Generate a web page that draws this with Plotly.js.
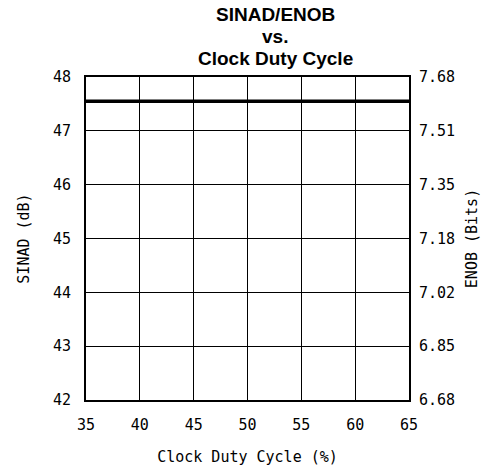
<!DOCTYPE html>
<html>
<head>
<meta charset="utf-8">
<script src="https://cdn.plot.ly/plotly-3.0.1.min.js"></script>
<style>html,body{margin:0;padding:0;background:#fff;}#chart{width:487px;height:472px;}</style>
</head>
<body>
<div id="chart"></div>
<script>
// Data
var dutyCycle = [35, 40, 45, 50, 55, 60, 65];
var sinad = [47.55, 47.55, 47.55, 47.55, 47.55, 47.55, 47.55];
var xTicks = [35, 40, 45, 50, 55, 60, 65];
var sinadTicks = [42, 43, 44, 45, 46, 47, 48];
var enobTickLabels = ['6.68', '6.85', '7.02', '7.18', '7.35', '7.51', '7.68'];
var titleLines = ['SINAD/ENOB', 'vs.', 'Clock Duty Cycle'];

var mono = 'DejaVu Sans Mono, monospace';
var tickFont = {family: mono, size: 15, color: '#000'};

var traces = [{
  x: dutyCycle, y: sinad, type: 'scatter', mode: 'lines',
  line: {color: '#000', width: 3.5}, hoverinfo: 'none', showlegend: false
}, {
  x: dutyCycle, y: sinad, type: 'scatter', mode: 'lines', yaxis: 'y2',
  line: {color: 'rgba(0,0,0,0)', width: 0}, hoverinfo: 'none', showlegend: false
}];

var titleY = [14.5, 36.5, 58.5];
var plotTop = 77, plotH = 323;
var annotations = titleLines.map(function (t, i) {
  return {
    text: t, xref: 'paper', yref: 'paper', x: (275 - 86) / 323, y: 1 + (plotTop - titleY[i]) / plotH,
    xanchor: 'center', yanchor: 'middle', showarrow: false, borderpad: 0,
    font: {family: 'Liberation Sans, Arial, sans-serif', size: 19, color: '#000', weight: 'bold'}
  };
});

var layout = {
  width: 487, height: 472,
  margin: {l: 86, r: 78, t: 77, b: 72, pad: 0},
  paper_bgcolor: '#fff', plot_bgcolor: '#fff',
  showlegend: false,
  annotations: annotations,
  xaxis: {
    range: [35, 65], tickvals: xTicks, ticktext: xTicks.map(String),
    showgrid: true, gridcolor: '#000', gridwidth: 1,
    showline: true, linecolor: '#000', linewidth: 2, mirror: true,
    zeroline: false, ticks: '', ticklabelstandoff: 10,
    tickfont: tickFont,
    title: {text: 'Clock Duty Cycle (%)', font: {family: mono, size: 15, color: '#000'}, standoff: 18}
  },
  yaxis: {
    range: [42, 48], tickvals: sinadTicks, ticktext: sinadTicks.map(String),
    showgrid: true, gridcolor: '#000', gridwidth: 1,
    showline: true, linecolor: '#000', linewidth: 2, mirror: true,
    zeroline: false, ticks: '', ticklabelstandoff: 10,
    tickfont: tickFont,
    title: {text: 'SINAD (dB)', font: {family: mono, size: 15, color: '#000'}, standoff: 20}
  },
  yaxis2: {
    overlaying: 'y', side: 'right', anchor: 'x',
    range: [42, 48], tickvals: sinadTicks, ticktext: enobTickLabels,
    showgrid: false, zeroline: false, showline: false, ticks: '', ticklabelstandoff: 9,
    tickfont: tickFont,
    title: {text: 'ENOB (Bits)', font: {family: mono, size: 15, color: '#000'}, standoff: 12}
  }
};

Plotly.newPlot('chart', traces, layout, {staticPlot: true, displayModeBar: false});
</script>
</body>
</html>
